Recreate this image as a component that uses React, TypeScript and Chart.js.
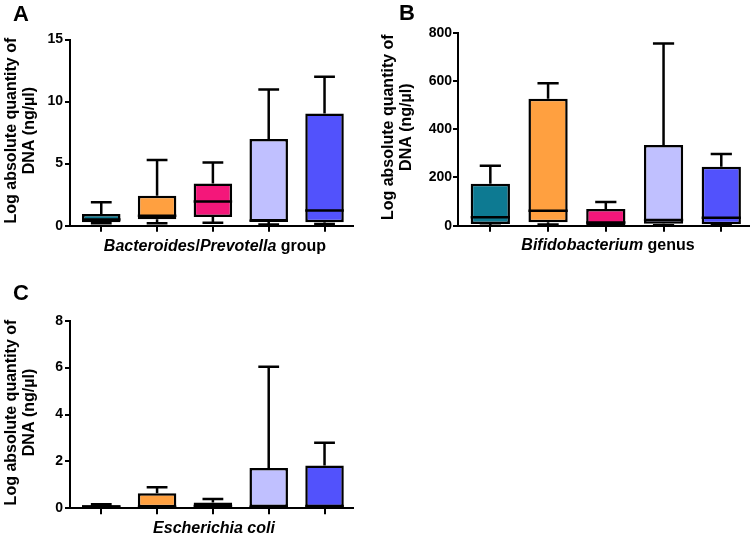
import React, { useEffect, useRef } from 'react';
import { Chart, registerables } from 'chart.js';

Chart.register(...registerables);

const groups = ['Group 1', 'Group 2', 'Group 3', 'Group 4', 'Group 5'];
const boxColors = ['#0d7a92', '#ffa040', '#f4177a', '#c0c0ff', '#5252fc'];
const yTitleLines = ['Log absolute quantity of', 'DNA (ng/µl)'];

// Panel A – Bacteroides/Prevotella group
const bactMin = [0.2, 0.2, 0.24, 0.1, 0.14];
const bactQ1 = [0.28, 0.52, 0.7, 0.34, 0.27];
const bactMedian = [0.5, 0.8, 1.95, 0.4, 1.22];
const bactQ3 = [0.94, 2.42, 3.4, 6.98, 9.04];
const bactMax = [1.88, 5.3, 5.1, 10.97, 12.0];
const bactTicks = [0, 5, 10, 15];

// Panel B – Bifidobacterium genus
const bifMin = [0, 5, 0, 2, 2];
const bifQ1 = [7, 14, 3, 8, 6];
const bifMedian = [35, 62, 13, 24, 33];
const bifQ3 = [174, 526, 69, 334, 244];
const bifMax = [249, 590, 98, 755, 297];
const bifTicks = [0, 200, 400, 600, 800];

// Panel C – Escherichia coli
const ecoMin = [0.02, 0.02, 0.03, 0.02, 0.02];
const ecoQ1 = [0.04, 0.05, 0.06, 0.06, 0.05];
const ecoMedian = [0.08, 0.07, 0.1, 0.07, 0.1];
const ecoQ3 = [0.13, 0.64, 0.25, 1.72, 1.82];
const ecoMax = [0.17, 0.9, 0.4, 6.04, 2.8];
const ecoTicks = [0, 2, 4, 6, 8];

const FONT = '"Liberation Sans", Arial, Helvetica, sans-serif';
const LINE_W = 2.5;

type Seg = { text: string; italic: boolean };
type Spec = {
  letter: string;
  xTitle: Seg[];
  min: number[];
  q1: number[];
  median: number[];
  q3: number[];
  max: number[];
  ticks: number[];
  box: { left: number; top: number; width: number; height: number };
  area: { left: number; right: number; top: number; bottom: number };
  xRange: [number, number];
  letterPos: [number, number];
  titleLineX: [number, number];
  xTitlePos: [number, number];
  tickPadding: number;
  barPct: number;
};

const panels: Spec[] = [
  {
    letter: 'A',
    xTitle: [
      { text: 'Bacteroides', italic: true },
      { text: '/', italic: false },
      { text: 'Prevotella', italic: true },
      { text: ' group', italic: false },
    ],
    min: bactMin, q1: bactQ1, median: bactMedian, q3: bactQ3, max: bactMax, ticks: bactTicks,
    box: { left: 0, top: 0, width: 377, height: 268 },
    area: { left: 70, right: 353, top: 39.5, bottom: 225.7 },
    xRange: [-0.56, 4.51],
    letterPos: [13, 21],
    titleLineX: [12, 30],
    xTitlePos: [215, 251],
    tickPadding: 2,
    barPct: 0.69,
  },
  {
    letter: 'B',
    xTitle: [
      { text: 'Bifidobacterium', italic: true },
      { text: ' genus', italic: false },
    ],
    min: bifMin, q1: bifQ1, median: bifMedian, q3: bifQ3, max: bifMax, ticks: bifTicks,
    box: { left: 377, top: 0, width: 377, height: 268 },
    area: { left: 81, right: 372, top: 32.7, bottom: 225.7 },
    xRange: [-0.56, 4.48],
    letterPos: [22, 20],
    titleLineX: [12, 30],
    xTitlePos: [231, 250],
    tickPadding: 1,
    barPct: 0.68,
  },
  {
    letter: 'C',
    xTitle: [{ text: 'Escherichia coli', italic: true }],
    min: ecoMin, q1: ecoQ1, median: ecoMedian, q3: ecoQ3, max: ecoMax, ticks: ecoTicks,
    box: { left: 0, top: 268, width: 377, height: 269 },
    area: { left: 70, right: 353, top: 52.7, bottom: 240.3 },
    xRange: [-0.56, 4.51],
    letterPos: [13, 32],
    titleLineX: [12, 30],
    xTitlePos: [214, 265],
    tickPadding: 2,
    barPct: 0.69,
  },
];

function Panel({ spec }: { spec: Spec }) {
  const ref = useRef<HTMLCanvasElement | null>(null);

  useEffect(() => {
    const canvas = ref.current;
    if (!canvas) return;
    const s = spec;

    const whiskerPlugin = {
      id: 'boxWhiskers',
      afterDatasetsDraw(chart: any) {
        const ctx = chart.ctx;
        const meta = chart.getDatasetMeta(0);
        const yScale = chart.scales.y;
        ctx.save();
        ctx.strokeStyle = '#000';
        ctx.lineWidth = LINE_W;
        ctx.lineCap = 'butt';
        meta.data.forEach((el: any, i: number) => {
          const { x, width } = el.getProps(['x', 'width'], true);
          const half = width / 2;
          const cap = width * 0.27;
          const yMax = yScale.getPixelForValue(s.max[i]);
          const yQ3 = yScale.getPixelForValue(s.q3[i]);
          const yQ1 = yScale.getPixelForValue(s.q1[i]);
          const yMin = yScale.getPixelForValue(s.min[i]);
          const yMed = yScale.getPixelForValue(s.median[i]);
          ctx.beginPath();
          // upper whisker
          ctx.moveTo(x, yQ3);
          ctx.lineTo(x, yMax);
          ctx.moveTo(x - cap, yMax);
          ctx.lineTo(x + cap, yMax);
          // lower whisker
          ctx.moveTo(x, yQ1);
          ctx.lineTo(x, yMin);
          ctx.moveTo(x - cap, yMin);
          ctx.lineTo(x + cap, yMin);
          // median
          ctx.moveTo(x - half, yMed);
          ctx.lineTo(x + half, yMed);
          ctx.stroke();
        });
        ctx.restore();
      },
    };

    const textPlugin = {
      id: 'panelText',
      afterDraw(chart: any) {
        const ctx = chart.ctx;
        const area = chart.chartArea;
        ctx.save();
        ctx.fillStyle = '#000';
        // panel letter
        ctx.font = `bold 22px ${FONT}`;
        ctx.textAlign = 'left';
        ctx.textBaseline = 'alphabetic';
        ctx.fillText(s.letter, s.letterPos[0], s.letterPos[1]);
        // y title
        const cy = (area.top + area.bottom) / 2 - 2;
        ctx.font = `bold 16px ${FONT}`;
        ctx.textAlign = 'center';
        ctx.textBaseline = 'middle';
        yTitleLines.forEach((line, k) => {
          ctx.save();
          ctx.translate(s.titleLineX[k], cy);
          ctx.rotate(-Math.PI / 2);
          ctx.fillText(line, 0, 0);
          ctx.restore();
        });
        // x title with mixed styles
        ctx.textAlign = 'left';
        ctx.textBaseline = 'alphabetic';
        const fontOf = (seg: Seg) => `${seg.italic ? 'italic ' : ''}bold 16px ${FONT}`;
        let total = 0;
        s.xTitle.forEach((seg) => {
          ctx.font = fontOf(seg);
          total += ctx.measureText(seg.text).width;
        });
        let xx = s.xTitlePos[0] - total / 2;
        s.xTitle.forEach((seg) => {
          ctx.font = fontOf(seg);
          ctx.fillText(seg.text, xx, s.xTitlePos[1]);
          xx += ctx.measureText(seg.text).width;
        });
        ctx.restore();
      },
    };

    const chart = new Chart(canvas, {
      type: 'bar',
      data: {
        datasets: [
          {
            label: 'Interquartile range',
            data: groups.map((g, i) => ({ x: i, y: [s.q1[i], s.q3[i]] })) as any,
            backgroundColor: boxColors,
            borderColor: '#000',
            borderWidth: LINE_W,
            borderSkipped: false,
            categoryPercentage: 1,
            barPercentage: s.barPct,
          },
        ],
      },
      options: {
        animation: false,
        responsive: false,
        events: [],
        layout: {
          padding: { top: s.area.top, right: s.box.width - s.area.right, left: 0, bottom: 0 },
        },
        plugins: { legend: { display: false }, tooltip: { enabled: false } },
        scales: {
          x: {
            type: 'linear',
            min: s.xRange[0],
            max: s.xRange[1],
            offset: false,
            afterBuildTicks: (sc: any) => {
              sc.ticks = groups.map((_, i) => ({ value: i }));
            },
            afterFit: (sc: any) => {
              sc.height = s.box.height - s.area.bottom;
            },
            ticks: { display: false },
            grid: {
              offset: false,
              drawOnChartArea: false,
              drawTicks: true,
              tickLength: 6,
              color: '#000',
              lineWidth: 2,
            },
            border: { display: true, color: '#000', width: 2 },
          },
          y: {
            type: 'linear',
            min: s.ticks[0],
            max: s.ticks[s.ticks.length - 1],
            afterBuildTicks: (sc: any) => {
              sc.ticks = s.ticks.map((v) => ({ value: v }));
            },
            afterFit: (sc: any) => {
              sc.width = s.area.left;
            },
            ticks: {
              color: '#000',
              padding: s.tickPadding,
              font: { family: FONT, size: 14, weight: 'bold' },
            },
            grid: {
              drawOnChartArea: false,
              drawTicks: true,
              tickLength: 5,
              color: '#000',
              lineWidth: 2,
            },
            border: { display: true, color: '#000', width: 2 },
          },
        },
      } as any,
      plugins: [whiskerPlugin, textPlugin],
    });

    return () => {
      chart.destroy();
    };
  }, [spec]);

  return (
    <canvas
      ref={ref}
      width={spec.box.width}
      height={spec.box.height}
      style={{
        position: 'absolute',
        left: spec.box.left,
        top: spec.box.top,
        width: spec.box.width,
        height: spec.box.height,
      }}
    />
  );
}

export default function App() {
  return (
    <div
      style={{
        position: 'absolute',
        left: 0,
        top: 0,
        width: 754,
        height: 537,
        background: '#ffffff',
        overflow: 'hidden',
      }}
    >
      {panels.map((p) => (
        <Panel key={p.letter} spec={p} />
      ))}
    </div>
  );
}
